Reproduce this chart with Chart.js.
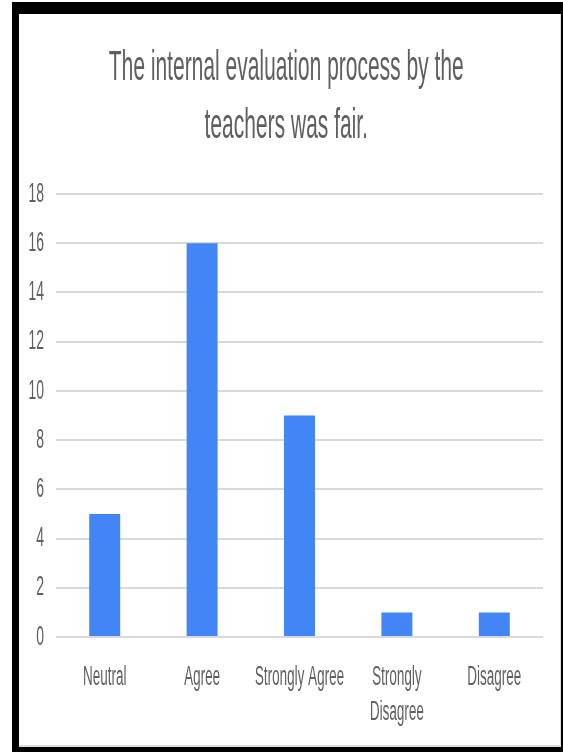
<!DOCTYPE html>
<html>
<head>
<meta charset="utf-8">
<script src="https://cdn.jsdelivr.net/npm/chart.js@4"></script>
<style>
    body { margin: 0; background: #fff; width: 563px; height: 752px; overflow: hidden; position: relative; }
    .frame { position: absolute; left: 12px; top: 2px; width: 551px; height: 750px; background: #000; }
    .panel { position: absolute; left: 19px; top: 14px; width: 542px; height: 733px; background: #fff; box-sizing: border-box; border-right: 1px solid #ddd; border-bottom: 2px solid #ddd; }
    #chart { position: absolute; left: 0; top: 0; }
</style>
</head>
<body>
<div class="frame"></div>
<div class="panel">
    <canvas id="chart" width="1084" height="733" style="width:542px; height:733px;"></canvas>
</div>
<script>
// data
const categories = ['Neutral', 'Agree', 'Strongly Agree', 'Strongly Disagree', 'Disagree'];
const counts = [5, 16, 9, 1, 1];
const yTicks = [0, 2, 4, 6, 8, 10, 12, 14, 16, 18];
const titleLines = ['The internal evaluation process by the', 'teachers was fair.'];

const textColor = '#5f5f5f';
const fontFamily = "'Liberation Sans', Arial, sans-serif";

// canvas is drawn twice as wide and squeezed by css, gives the narrow look of the original
new Chart(document.getElementById('chart'), {
    type: 'bar',
    data: {
        labels: categories,
        datasets: [{
            data: counts,
            backgroundColor: '#4285f4',
            borderWidth: 0,
            barPercentage: 0.318,
            categoryPercentage: 1
        }]
    },
    options: {
        responsive: false,
        animation: false,
        layout: { padding: { left: 21, right: 36, top: 0, bottom: 2 } },
        plugins: {
            legend: { display: false },
            tooltip: { enabled: false },
            title: {
                display: true,
                text: titleLines,
                color: textColor,
                font: { family: fontFamily, size: 42, weight: 'normal', lineHeight: 1.38 },
                padding: { top: 25, bottom: 39 }
            }
        },
        scales: {
            x: {
                afterFit(scale) { scale.height = 108; },
                grid: { display: false, drawTicks: false },
                border: { display: false },
                ticks: {
                    color: textColor,
                    padding: 23,
                    maxRotation: 0,
                    autoSkip: false,
                    font: { family: fontFamily, size: 27, lineHeight: 1.3 },
                    callback: function (v) {
                        const s = this.getLabelForValue(v);
                        // long labels wrap onto two lines
                        if (s.length > 14) {
                            const i = s.lastIndexOf(' ');
                            return [s.slice(0, i), s.slice(i + 1)];
                        }
                        return s;
                    }
                }
            },
            y: {
                min: yTicks[0],
                max: yTicks[yTicks.length - 1],
                afterFit(scale) { scale.width = 53; },
                afterBuildTicks(scale) { scale.ticks = yTicks.map(v => ({ value: v })); },
                grid: { color: '#d9d9d9', lineWidth: 2, drawTicks: false },
                border: { display: false },
                ticks: {
                    color: textColor,
                    padding: 24,
                    font: { family: fontFamily, size: 28 }
                }
            }
        }
    }
});
</script>
</body>
</html>
